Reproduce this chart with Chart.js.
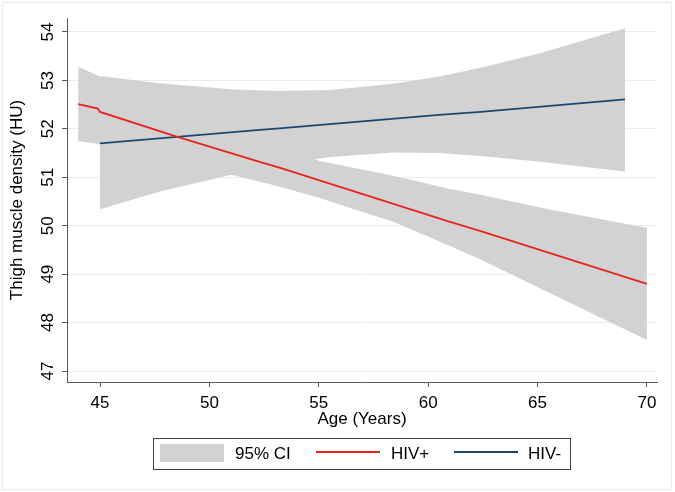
<!DOCTYPE html>
<html>
<head>
<meta charset="utf-8">
<script src="https://cdn.jsdelivr.net/npm/chart.js@4/dist/chart.umd.min.js"></script>
<style>
  html, body { margin: 0; padding: 0; background: #fff; }
  canvas { display: block; }
</style>
</head>
<body>
<canvas id="myChart" width="675" height="492"></canvas>
<script>
// axis ticks
var xTicks = [45, 50, 55, 60, 65, 70];
var yTicks = [47, 48, 49, 50, 51, 52, 53, 54];

// HIV+ fitted line
var hivPosAge = [44, 44.9, 45, 48.5, 52.3, 53.2, 61, 62.4, 70];
var hivPosFit = [52.51, 52.42, 52.35, 51.84, 51.32, 51.20, 50.08, 49.89, 48.80];

// HIV- fitted line
var hivNegAge = [45, 52.3, 53.2, 60.5, 62.4, 69];
var hivNegFit = [51.70, 51.98, 52.01, 52.29, 52.35, 52.61];

// 95% CI for HIV+
var hivPosCiAge = [44, 45, 47, 49, 51, 53, 55, 58.4, 61, 62.4, 65.6, 70];
var hivPosCiUp = [53.28, 53.08, 52.70, 52.33, 52.00, 51.67, 51.34, 51.03, 50.76, 50.64, 50.33, 49.96];
var hivPosCiLo = [51.75, 51.68, 51.45, 51.25, 51.05, 50.83, 50.58, 50.08, 49.58, 49.30, 48.60, 47.64];

// 95% CI for HIV-
var hivNegCiAge = [45, 47.7, 51, 53, 55.5, 58.4, 60.5, 62.4, 65.1, 69];
var hivNegCiUp = [53.09, 52.94, 52.82, 52.78, 52.80, 52.93, 53.08, 53.26, 53.56, 54.08];
var hivNegCiLo = [50.34, 50.70, 51.05, 51.25, 51.42, 51.51, 51.50, 51.44, 51.32, 51.12];

var ciColor = "#d2d2d2";
var redColor = "#e8231e";
var navyColor = "#1a476f";
var axisColor = "#5a5a5a";
var fontFamily = '"Liberation Sans", Arial, sans-serif';

function pts(xs, ys) {
  return xs.map(function (x, i) { return { x: x, y: ys[i] }; });
}

// draws the rotated y labels, titles, legend box and outer frame
var stataText = {
  id: "stataText",
  afterDraw: function (chart) {
    var ctx = chart.ctx;
    var yScale = chart.scales.y;
    var area = chart.chartArea;
    ctx.save();
    ctx.font = "17px " + fontFamily;
    ctx.fillStyle = "#000";
    ctx.textAlign = "center";
    ctx.textBaseline = "alphabetic";

    yTicks.forEach(function (v) {
      var py = yScale.getPixelForValue(v);
      ctx.save();
      ctx.translate(53, py);
      ctx.rotate(-Math.PI / 2);
      ctx.fillText(String(v), 0, 0);
      ctx.restore();
    });

    // y title
    ctx.save();
    ctx.translate(22, (area.top + area.bottom) / 2);
    ctx.rotate(-Math.PI / 2);
    ctx.fillText("Thigh muscle density (HU)", 0, 0);
    ctx.restore();

    // x title
    ctx.fillText("Age (Years)", (area.left + area.right) / 2, 424);

    // legend
    ctx.strokeStyle = "#404040";
    ctx.lineWidth = 1;
    ctx.strokeRect(153.5, 438.5, 417, 31);
    ctx.textAlign = "left";
    var items = [
      { label: "95% CI", kind: "box", color: ciColor, x: 160, tx: 235 },
      { label: "HIV+", kind: "line", color: redColor, x: 316, tx: 391 },
      { label: "HIV-", kind: "line", color: navyColor, x: 454, tx: 528 }
    ];
    items.forEach(function (it) {
      if (it.kind === "box") {
        ctx.fillStyle = it.color;
        ctx.fillRect(it.x, 444, 64, 18);
      } else {
        ctx.strokeStyle = it.color;
        ctx.lineWidth = 2;
        ctx.beginPath();
        ctx.moveTo(it.x, 452);
        ctx.lineTo(it.x + 64, 452);
        ctx.stroke();
      }
      ctx.fillStyle = "#000";
      ctx.fillText(it.label, it.tx, 459);
    });

    // faint outer frame
    ctx.strokeStyle = "#e2eaee";
    ctx.lineWidth = 1;
    ctx.strokeRect(2.5, 2.5, 669, 487);
    ctx.restore();
  }
};

var ctx = document.getElementById("myChart").getContext("2d");

var myChart = new Chart(ctx, {
  type: "line",
  data: {
    datasets: [
      {
        label: "HIV+ CI low",
        data: pts(hivPosCiAge, hivPosCiLo),
        borderWidth: 0,
        backgroundColor: ciColor,
        fill: false,
        order: 2
      },
      {
        label: "HIV+ CI high",
        data: pts(hivPosCiAge, hivPosCiUp),
        borderWidth: 0,
        backgroundColor: ciColor,
        fill: "-1",
        order: 2
      },
      {
        label: "HIV- CI low",
        data: pts(hivNegCiAge, hivNegCiLo),
        borderWidth: 0,
        backgroundColor: ciColor,
        fill: false,
        order: 1
      },
      {
        label: "HIV- CI high",
        data: pts(hivNegCiAge, hivNegCiUp),
        borderWidth: 0,
        backgroundColor: ciColor,
        fill: "-1",
        order: 1
      },
      {
        label: "HIV+",
        data: pts(hivPosAge, hivPosFit),
        borderColor: redColor,
        borderWidth: 1.8,
        fill: false,
        order: 0
      },
      {
        label: "HIV-",
        data: pts(hivNegAge, hivNegFit),
        borderColor: navyColor,
        borderWidth: 1.8,
        fill: false,
        order: 0
      }
    ]
  },
  options: {
    responsive: false,
    devicePixelRatio: 1,
    animation: false,
    layout: { padding: { left: 0, right: 18, top: 18, bottom: 60 } },
    elements: {
      point: { radius: 0 },
      line: { tension: 0 }
    },
    plugins: {
      legend: { display: false },
      tooltip: { enabled: false }
    },
    scales: {
      x: {
        type: "linear",
        min: 43.49,
        max: 70.46,
        afterBuildTicks: function (scale) {
          scale.ticks = xTicks.map(function (v) { return { value: v }; });
        },
        afterFit: function (scale) { scale.height = 50; },
        grid: { drawOnChartArea: false, tickLength: 5, tickColor: axisColor },
        border: { color: axisColor, width: 1 },
        ticks: {
          color: "#000",
          padding: 6,
          maxRotation: 0,
          font: { family: fontFamily, size: 17 }
        }
      },
      y: {
        type: "linear",
        min: 46.773,
        max: 54.289,
        afterBuildTicks: function (scale) {
          scale.ticks = yTicks.map(function (v) { return { value: v }; });
        },
        afterFit: function (scale) { scale.width = 67; },
        grid: { color: "#e6edf0", tickLength: 5, tickColor: axisColor },
        border: { color: axisColor, width: 1 },
        ticks: {
          color: "rgba(0,0,0,0)",
          font: { family: fontFamily, size: 17 }
        }
      }
    }
  },
  plugins: [stataText]
});
</script>
</body>
</html>
